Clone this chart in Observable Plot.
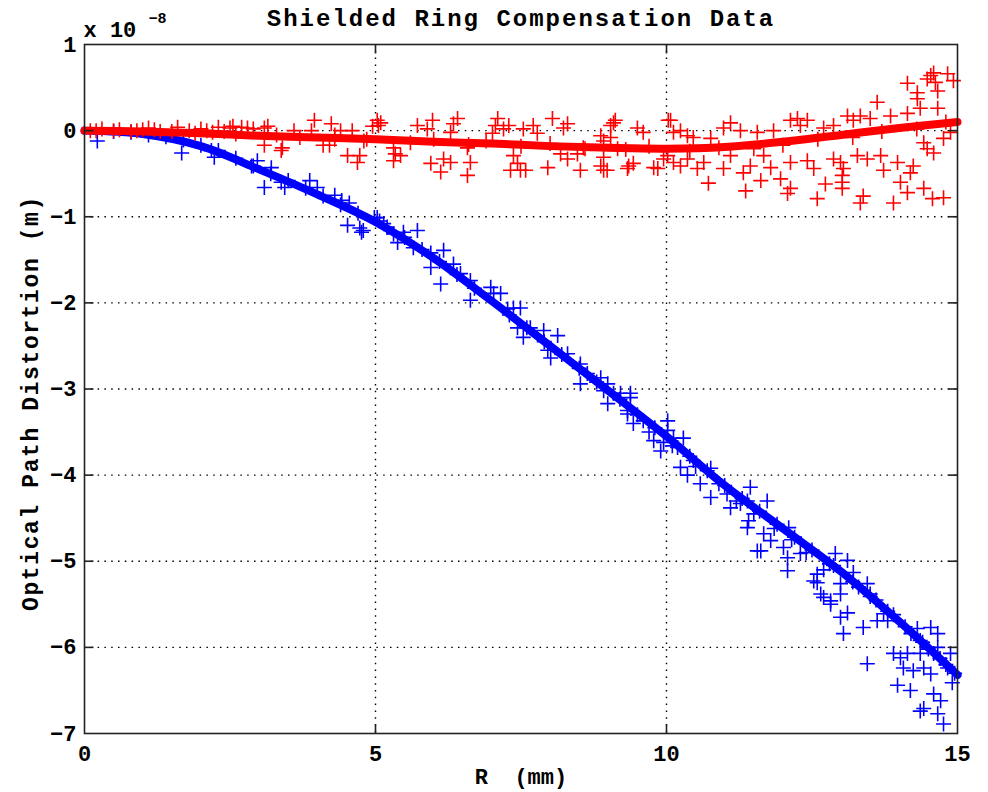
<!DOCTYPE html>
<html><head><meta charset="utf-8">
<script src="https://cdn.jsdelivr.net/npm/d3@7"></script>
<script src="https://cdn.jsdelivr.net/npm/@observablehq/plot@0.6"></script>
<style>body{margin:0;background:#fff} svg{display:block}</style>
</head><body><div id="chart"></div>
<script>
const xTicks = [0, 5, 10, 15];
const yTicks = [-7, -6, -5, -4, -3, -2, -1, 0, 1];
const titleText = "Shielded Ring Compensation Data";
const xLabel = "R\u00a0\u00a0(mm)";
const yLabel = "Optical Path Distortion (m)";
const exponentBase = "x 10";
const exponentPower = "\u22128";

const fitR    = [0, 1, 2, 3, 4, 5, 6, 7, 8, 9, 10, 11, 12, 13, 14, 15];
const blueFit = [0, -0.04, -0.18, -0.45, -0.74, -1.06, -1.48, -1.98, -2.50, -3.02, -3.55, -4.12, -4.62, -5.12, -5.70, -6.32];
const redFit  = [0, -0.01, -0.03, -0.06, -0.08, -0.10, -0.13, -0.15, -0.18, -0.20, -0.21, -0.19, -0.13, -0.05, 0.03, 0.10];

const bluePoints = [
[0.22,-0.12],[0.5,-0.01],[0.8,-0.02],[1.1,-0.05],[1.4,-0.07],[1.67,-0.26],[1.7,-0.11],[2.0,-0.17],[2.18,-0.23],[2.23,-0.31],[2.3,-0.23],[2.6,-0.32],[2.87,-0.41],[2.9,-0.41],[2.97,-0.35],[3.09,-0.66],[3.2,-0.5],[3.21,-0.43],[3.38,-0.6],[3.44,-0.66],[3.5,-0.58],[3.8,-0.67],[3.87,-0.58],[4.0,-0.66],[4.1,-0.76],[4.3,-0.75],[4.4,-0.86],[4.42,-0.81],[4.52,-1.1],[4.55,-0.84],[4.7,-0.96],[4.73,-1.13],[4.76,-1.18],[4.79,-1.16],[4.98,-1.01],[5.03,-1.01],[5.07,-1.05],[5.14,-1.08],[5.2,-1.12],[5.31,-1.2],[5.38,-1.3],[5.48,-1.18],[5.5,-1.24],[5.65,-1.36],[5.72,-1.16],[5.8,-1.38],[5.95,-1.42],[5.95,-1.59],[6.1,-1.52],[6.12,-1.78],[6.17,-1.39],[6.34,-1.55],[6.4,-1.67],[6.46,-1.66],[6.63,-1.74],[6.63,-1.97],[6.7,-1.83],[6.98,-1.82],[7.03,-1.89],[7.15,-1.89],[7.27,-2.07],[7.3,-2.14],[7.37,-2.06],[7.44,-2.29],[7.49,-2.06],[7.54,-2.4],[7.6,-2.29],[7.66,-2.29],[7.89,-2.32],[7.9,-2.45],[7.96,-2.55],[8.01,-2.64],[8.13,-2.38],[8.2,-2.6],[8.3,-2.59],[8.5,-2.76],[8.52,-2.71],[8.52,-2.94],[8.64,-2.82],[8.8,-2.92],[8.87,-2.87],[8.92,-3.02],[8.99,-2.94],[8.99,-3.17],[9.09,-3.05],[9.2,-3.12],[9.21,-3.05],[9.33,-3.25],[9.33,-3.29],[9.38,-3.05],[9.38,-3.1],[9.43,-3.4],[9.5,-3.3],[9.6,-3.37],[9.78,-3.6],[9.8,-3.45],[9.9,-3.72],[10.02,-3.37],[10.02,-3.48],[10.12,-3.57],[10.19,-3.68],[10.24,-3.91],[10.29,-3.57],[10.36,-4.0],[10.4,-3.78],[10.46,-3.83],[10.58,-4.1],[10.7,-3.95],[10.76,-3.92],[10.76,-4.26],[11.0,-4.12],[11.04,-4.22],[11.1,-4.38],[11.27,-4.33],[11.3,-4.27],[11.39,-4.3],[11.39,-4.61],[11.41,-4.53],[11.44,-4.14],[11.56,-4.88],[11.6,-4.42],[11.62,-4.88],[11.67,-4.68],[11.73,-4.3],[11.79,-4.76],[11.9,-4.57],[12.01,-4.84],[12.08,-4.96],[12.08,-5.11],[12.1,-4.61],[12.2,-4.72],[12.3,-4.91],[12.5,-4.87],[12.53,-5.23],[12.59,-5.15],[12.59,-5.25],[12.65,-5.38],[12.7,-5.42],[12.8,-5.03],[12.82,-5.46],[12.82,-5.5],[12.87,-5.05],[12.9,-4.91],[12.99,-5.26],[12.99,-5.38],[12.99,-5.65],[13.04,-5.84],[13.11,-4.99],[13.11,-5.6],[13.2,-5.24],[13.21,-5.13],[13.38,-5.77],[13.45,-5.26],[13.45,-6.19],[13.5,-5.38],[13.5,-5.41],[13.62,-5.69],[13.73,-5.61],[13.8,-5.58],[13.8,-5.69],[13.9,-6.07],[13.97,-6.44],[14.02,-6.12],[14.07,-6.24],[14.1,-5.76],[14.14,-6.07],[14.19,-6.5],[14.24,-6.27],[14.31,-5.78],[14.36,-5.92],[14.36,-6.07],[14.36,-6.74],[14.4,-5.94],[14.42,-6.71],[14.42,-6.24],[14.54,-5.77],[14.54,-6.31],[14.59,-6.07],[14.59,-6.54],[14.66,-5.84],[14.66,-6.0],[14.66,-6.77],[14.7,-6.13],[14.71,-6.62],[14.76,-6.89],[14.83,-6.24],[14.88,-6.07],[14.91,-6.41],[14.95,-6.3],
[9.7,-3.5],[9.95,-3.62],[10.1,-3.66],[10.5,-3.9],[10.9,-4.1],[11.2,-4.3],[11.5,-4.45],[11.85,-4.62],[12.15,-4.75],[12.4,-4.9],[12.7,-5.1],[13.3,-5.3],[13.6,-5.45],[13.9,-5.62],[14.2,-5.84],[14.5,-6.02],[14.8,-6.2]
];

const redPoints = [
[0.1,0.0],[0.2,0.0],[0.3,0.02],[0.5,0.0],[0.6,0.01],[0.8,-0.01],[0.9,0.0],[1.0,0.01],[1.1,0.03],[1.2,0.01],[1.3,-0.01],[1.5,-0.01],[1.6,0.04],[1.8,0.0],[1.9,-0.03],[2.0,0.02],[2.1,0.0],[2.2,-0.02],[2.3,0.04],[2.4,-0.01],[2.5,0.03],[2.55,0.05],[2.6,-0.04],[2.7,0.04],[2.8,0.03],[2.9,0.02],[3.09,0.03],[3.15,0.05],[3.09,-0.17],[3.3,-0.05],[3.40,-0.20],[3.38,-0.23],[3.6,0.0],[3.7,-0.08],[3.95,0.12],[3.90,0.0],[4.24,0.08],[4.21,-0.17],[4.10,-0.17],[4.3,-0.05],[4.3,-0.1],[4.4,0.0],[4.52,-0.29],[4.6,0.0],[4.73,-0.29],[4.69,-0.37],[4.8,-0.12],[4.85,-0.1],[4.95,0.05],[5.03,0.12],
[5.09,0.09],[5.05,0.06],[5.31,-0.2],[5.34,-0.27],[5.43,-0.29],[5.31,-0.35],[5.6,-0.14],[5.72,0.06],[5.89,0.02],[5.98,0.12],[5.95,-0.38],[6.0,-0.1],[6.12,-0.48],[6.17,-0.33],[6.29,-0.37],[6.34,0.08],[6.41,0.14],[6.29,-0.02],[6.58,-0.2],[6.6,-0.16],[6.63,-0.37],[6.58,-0.52],[6.9,-0.12],[7.10,0.14],[7.06,0.06],[7.01,-0.03],[7.2,0.02],[7.29,0.06],[7.37,-0.29],[7.44,-0.38],[7.32,-0.46],[7.49,-0.46],[7.5,-0.18],[7.58,-0.46],[7.54,0.02],[7.71,0.06],[7.78,-0.03],[7.96,-0.43],[8.0,-0.15],[8.04,0.14],[8.3,0.08],[8.23,0.03],[8.18,-0.27],[8.3,-0.33],[8.52,-0.46],[8.47,-0.27],[8.57,-0.2],[8.6,-0.21],[8.87,-0.06],[8.92,-0.31],[8.87,-0.41],[8.92,-0.46],[8.98,-0.46],[9.04,0.06],[9.09,0.09],[9.12,0.12],[9.04,-0.08],[8.92,-0.12],[9.16,-0.21],[9.3,-0.22],[9.33,-0.44],[9.35,-0.41],[9.43,-0.38],[9.5,0.03],[9.6,-0.02],[9.7,-0.18],[9.78,-0.43],[9.85,-0.44],[9.95,-0.33],[10.03,0.12],
[10.07,0.12],[10.12,-0.02],[10.24,0.0],[10.36,-0.06],[10.4,-0.24],[10.46,-0.08],[10.02,-0.29],[10.12,-0.37],[10.24,-0.41],[10.36,-0.33],[10.53,-0.44],[10.64,-0.37],[10.72,-0.61],[10.76,-0.09],[10.9,-0.2],[10.98,0.03],[11.1,0.09],[10.98,-0.44],[11.1,-0.29],[11.27,0.0],[11.36,-0.7],[11.32,-0.49],[11.44,-0.41],[11.5,-0.21],[11.56,-0.02],[11.62,-0.58],[11.67,-0.29],[11.79,-0.43],[11.84,0.0],[11.96,-0.56],[12.0,-0.17],[12.08,-0.73],[12.13,-0.67],[12.13,-0.37],[12.13,0.12],[12.25,0.14],[12.3,0.06],[12.42,0.12],[12.42,-0.35],[12.53,-0.44],[12.59,-0.79],[12.6,-0.1],[12.73,-0.62],[12.7,0.03],[12.87,0.06],[12.87,-0.33],[12.99,-0.37],[13.02,-0.52],[13.02,-0.6],[13.04,-0.44],[13.02,-0.67],[13.11,0.17],[13.2,-0.08],[13.21,0.12],[13.33,0.17],[13.28,-0.29],[13.33,-0.84],[13.38,-0.76],[13.45,-0.33],[13.5,0.14],[13.62,0.33],[13.68,-0.29],[13.7,-0.01],[13.73,-0.46],[13.85,0.17],[13.9,-0.84],[13.97,-0.37],[14.02,-0.6],[14.14,0.55],[14.14,0.2],[14.14,-0.72],[14.19,-0.49],[14.24,-0.41],[14.3,0.02],[14.31,0.44],[14.31,0.37],[14.36,0.26],[14.42,-0.14],[14.42,-0.67],[14.48,-0.21],[14.48,0.6],[14.54,0.64],[14.59,0.67],[14.62,0.56],[14.66,0.46],[14.66,0.26],[14.59,-0.26],[14.57,-0.79],[14.76,-0.78],[14.76,-0.09],[14.8,0.1],[14.83,0.66],[14.93,0.58],[14.88,-0.02]
];

const blueFitData = fitR.map((r, i) => ({r, v: blueFit[i]}));
const redFitData = fitR.map((r, i) => ({r, v: redFit[i]}));

const plus = {draw(ctx, size) { const r = Math.sqrt(size / Math.PI); ctx.moveTo(-r, 0); ctx.lineTo(r, 0); ctx.moveTo(0, -r); ctx.lineTo(0, r); }};
const tickRight = {draw(ctx, size) { const r = Math.sqrt(size / Math.PI); ctx.moveTo(0, 0); ctx.lineTo(r, 0); }};
const tickLeft = {draw(ctx, size) { const r = Math.sqrt(size / Math.PI); ctx.moveTo(0, 0); ctx.lineTo(-r, 0); }};
const tickUp = {draw(ctx, size) { const r = Math.sqrt(size / Math.PI); ctx.moveTo(0, 0); ctx.lineTo(0, -r); }};
const tickDown = {draw(ctx, size) { const r = Math.sqrt(size / Math.PI); ctx.moveTo(0, 0); ctx.lineTo(0, r); }};

const xDom = [xTicks[0], xTicks[xTicks.length - 1]];
const yDom = [yTicks[0], yTicks[yTicks.length - 1]];
const innerY = yTicks.filter(v => v > yDom[0] && v < yDom[1]);
const innerX = xTicks.filter(v => v > xDom[0] && v < xDom[1]);
const fmt = d => d < 0 ? "\u2212" + (-d) : String(d);

const chart = Plot.plot({
  width: 988, height: 792,
  marginLeft: 84, marginRight: 31, marginTop: 44, marginBottom: 59,
  x: {domain: xDom, label: null},
  y: {domain: yDom, label: null},
  style: {fontFamily: "'Liberation Mono', 'DejaVu Sans Mono', monospace", fontWeight: "bold", fontSize: "22px", background: "white", overflow: "visible", color: "black"},
  marks: [
    Plot.ruleY(innerY, {stroke: "black", strokeWidth: 1.4, strokeDasharray: "1.5,5.3"}),
    Plot.ruleX(innerX, {stroke: "black", strokeWidth: 1.4, strokeDasharray: "1.5,5.3"}),
    Plot.dot(bluePoints, {x: d => d[0], y: d => d[1], symbol: plus, r: 7.5, stroke: "#0000ff", fill: "none", strokeWidth: 1.6}),
    Plot.line(blueFitData, {x: "r", y: "v", stroke: "#0000ff", strokeWidth: 8, curve: "catmull-rom"}),
    Plot.dot(redPoints, {x: d => d[0], y: d => d[1], symbol: plus, r: 7.5, stroke: "#ff0000", fill: "none", strokeWidth: 1.6}),
    Plot.line(redFitData, {x: "r", y: "v", stroke: "#ff0000", strokeWidth: 8, curve: "catmull-rom"}),
    Plot.frame({stroke: "#222", strokeWidth: 1.6}),
    Plot.dot(innerY, {x: xDom[0], y: d => d, symbol: tickRight, r: 9, stroke: "#222", strokeWidth: 1.6}),
    Plot.dot(innerY, {x: xDom[1], y: d => d, symbol: tickLeft, r: 9, stroke: "#222", strokeWidth: 1.6}),
    Plot.dot(innerX, {x: d => d, y: yDom[0], symbol: tickUp, r: 9, stroke: "#222", strokeWidth: 1.6}),
    Plot.dot(innerX, {x: d => d, y: yDom[1], symbol: tickDown, r: 9, stroke: "#222", strokeWidth: 1.6}),
    Plot.axisX(xTicks, {anchor: "bottom", tickSize: 0, tickPadding: 12, label: null, tickFormat: fmt, fill: "black"}),
    Plot.axisY(yTicks, {anchor: "left", tickSize: 0, tickPadding: 8, label: null, tickFormat: fmt, fill: "black"}),
    Plot.text([titleText], {frameAnchor: "top", lineAnchor: "bottom", dy: -19, fontSize: 24, fill: "black"}),
    Plot.text([xLabel], {frameAnchor: "bottom", lineAnchor: "bottom", dy: 50, fontSize: 22, fill: "black"}),
    Plot.text([yLabel], {frameAnchor: "left", textAnchor: "middle", lineAnchor: "middle", rotate: -90, dx: -54, dy: 14, fontSize: 23, fill: "black"}),
    Plot.text([exponentBase], {frameAnchor: "top-left", textAnchor: "start", lineAnchor: "bottom", dx: -1, dy: -8, fontSize: 22, fill: "black"}),
    Plot.text([exponentPower], {frameAnchor: "top-left", textAnchor: "start", lineAnchor: "bottom", dx: 64, dy: -22, fontSize: 15, fill: "black"})
  ]
});

d3.select(chart).selectAll("text").each(function() {
  const t = this.textContent;
  if (t === titleText) this.setAttribute("letter-spacing", "2");
  if (t === yLabel) this.setAttribute("letter-spacing", "1.6");
});
document.getElementById("chart").appendChild(chart);
</script>
</body></html>
